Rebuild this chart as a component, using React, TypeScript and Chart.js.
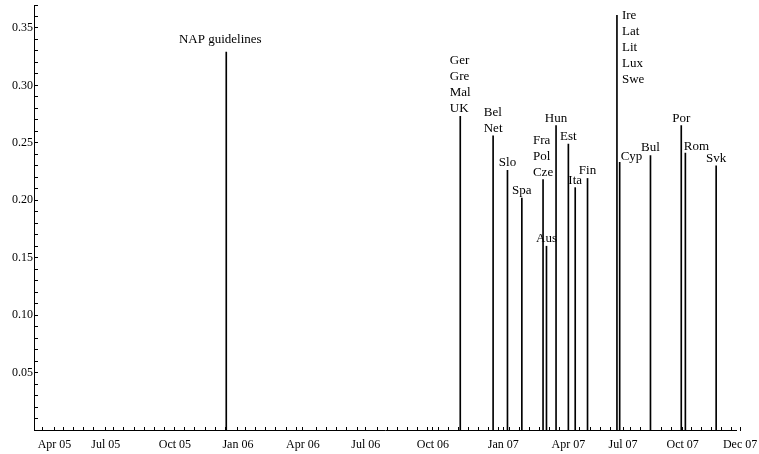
import React, { useEffect, useRef } from 'react';
import { Chart, registerables } from 'chart.js';

Chart.register(...registerables);

// ---- data ----
const EVENT_LABELS: string[][] = [
  ['NAP guidelines'],
  ['Ger', 'Gre', 'Mal', 'UK'],
  ['Bel', 'Net'],
  ['Slo'],
  ['Spa'],
  ['Fra', 'Pol', 'Cze'],
  ['Aus'],
  ['Hun'],
  ['Est'],
  ['Ita'],
  ['Fin'],
  ['Ire', 'Lat', 'Lit', 'Lux', 'Swe'],
  ['Cyp'],
  ['Bul'],
  ['Por'],
  ['Rom'],
  ['Svk'],
];
const EVENT_DATES: string[] = [
  '2005-12-22', '2006-11-29', '2007-01-16', '2007-02-06', '2007-02-27',
  '2007-03-30', '2007-04-04', '2007-04-18', '2007-05-06', '2007-05-16',
  '2007-06-03', '2007-07-16', '2007-07-20', '2007-09-03', '2007-10-18',
  '2007-10-24', '2007-12-08',
];
const EVENT_VALUES: number[] = [
  0.329, 0.273, 0.256, 0.226, 0.202,
  0.218, 0.160, 0.265, 0.249, 0.211,
  0.219, 0.361, 0.233, 0.239, 0.265,
  0.241, 0.230,
];
const X_TICK_LABELS: string[] = [
  'Apr 05', 'Jul 05', 'Oct 05', 'Jan 06', 'Apr 06', 'Jul 06',
  'Oct 06', 'Jan 07', 'Apr 07', 'Jul 07', 'Oct 07', 'Dec 07',
];
const X_TICK_DATES: string[] = [
  '2005-04-15', '2005-06-29', '2005-10-08', '2006-01-08', '2006-04-13', '2006-07-14',
  '2006-10-20', '2007-01-31', '2007-05-06', '2007-07-25', '2007-10-20', '2008-01-12',
];
const X_MIN_DATE = '2005-03-16';
const X_MAX_DATE = '2008-01-06';
const X_MINOR_START_DATE = '2005-03-29';
const X_MINOR_STEP_DAYS = 14.81;
const Y_MIN = 0;
const Y_MAX = 0.37;
const Y_MINOR_STEP = 0.01;
const Y_LABEL_VALUES: number[] = [0.05, 0.1, 0.15, 0.2, 0.25, 0.3, 0.35];

// ---- helpers ----
const EPOCH = Date.parse('2005-01-01T00:00:00Z');
const toDay = (iso: string) => (Date.parse(iso + 'T00:00:00Z') - EPOCH) / 86400000;

const FONT_FAMILY = '"Liberation Serif", "Times New Roman", serif';
const LINE_H = 16;

type Placement = { mode: 'above' | 'aboveRight' | 'besideTop'; dx: number; gap: number };
const DEFAULT_PLACEMENT: Placement = { mode: 'above', dx: 0, gap: 4 };
const PLACEMENT: Record<string, Placement> = {
  'NAP guidelines': { mode: 'above', dx: -6, gap: 9 },
  Ire: { mode: 'besideTop', dx: 5, gap: 4 },
  Cyp: { mode: 'aboveRight', dx: 1, gap: 2 },
  Rom: { mode: 'aboveRight', dx: -1.5, gap: 3 },
};

const labelPlugin = {
  id: 'eventLabels',
  afterDatasetsDraw(chart: any) {
    const meta = chart.getDatasetMeta(0);
    const ctx: CanvasRenderingContext2D = chart.ctx;
    ctx.save();
    ctx.font = `13px ${FONT_FAMILY}`;
    ctx.fillStyle = '#000';
    ctx.textBaseline = 'alphabetic';
    ctx.textAlign = 'left';
    meta.data.forEach((el: any, i: number) => {
      const lines = EVENT_LABELS[i];
      const p = PLACEMENT[lines[0]] ?? DEFAULT_PLACEMENT;
      const w = Math.max(...lines.map((l) => ctx.measureText(l).width));
      const top = el.y;
      if (p.mode === 'above') {
        const left = el.x - w / 2 + p.dx;
        lines.forEach((l, j) => {
          ctx.fillText(l, left, top - p.gap - (lines.length - 1 - j) * LINE_H);
        });
      } else if (p.mode === 'aboveRight') {
        const left = el.x + p.dx;
        lines.forEach((l, j) => {
          ctx.fillText(l, left, top - p.gap - (lines.length - 1 - j) * LINE_H);
        });
      } else {
        const left = el.x + p.dx;
        lines.forEach((l, j) => {
          ctx.fillText(l, left, top + p.gap + j * LINE_H);
        });
      }
    });
    ctx.restore();
  },
};

export default function App() {
  const canvasRef = useRef<HTMLCanvasElement | null>(null);

  useEffect(() => {
    if (!canvasRef.current) return;
    const xMin = toDay(X_MIN_DATE);
    const xMax = toDay(X_MAX_DATE);
    const labelDays = X_TICK_DATES.map(toDay);
    const labelMap = new Map<number, string>();
    labelDays.forEach((d, i) => labelMap.set(Math.round(d * 1000), X_TICK_LABELS[i]));

    const xTicks: number[] = [...labelDays];
    for (let d = toDay(X_MINOR_START_DATE); d <= xMax; d += X_MINOR_STEP_DAYS) {
      if (labelDays.every((ld) => Math.abs(ld - d) > 6)) xTicks.push(d);
    }
    xTicks.sort((a, b) => a - b);

    const yTicks: number[] = [];
    for (let k = 1; k * Y_MINOR_STEP <= Y_MAX + 1e-9; k++) yTicks.push(+(k * Y_MINOR_STEP).toFixed(2));

    const chart = new Chart(canvasRef.current, {
      type: 'bar',
      data: {
        datasets: [
          {
            data: EVENT_DATES.map((d, i) => ({ x: toDay(d), y: EVENT_VALUES[i] })),
            backgroundColor: '#000',
            borderWidth: 0,
            barThickness: 1,
          } as any,
        ],
      },
      options: {
        animation: false,
        responsive: false,
        devicePixelRatio: 1,
        layout: { padding: { top: 5, right: 23, bottom: 0, left: 0 } },
        plugins: { legend: { display: false }, tooltip: { enabled: false } },
        scales: {
          x: {
            type: 'linear',
            min: xMin,
            max: xMax,
            offset: false,
            border: { display: true, color: '#000', width: 1 },
            grid: {
              display: true,
              drawOnChartArea: false,
              drawTicks: true,
              tickLength: -3,
              color: '#000',
              offset: false,
            },
            ticks: {
              autoSkip: false,
              maxRotation: 0,
              minRotation: 0,
              padding: 11,
              color: '#000',
              font: { family: FONT_FAMILY, size: 12 },
              callback: (v: any) => labelMap.get(Math.round(Number(v) * 1000)) ?? '',
            },
            afterBuildTicks: (scale: any) => {
              scale.ticks = xTicks.map((v) => ({ value: v }));
            },
            afterFit: (scale: any) => {
              scale.height = 24;
              scale.paddingLeft = 0;
              scale.paddingRight = 0;
            },
          },
          y: {
            type: 'linear',
            min: Y_MIN,
            max: Y_MAX,
            border: { display: true, color: '#000', width: 1 },
            grid: {
              display: true,
              drawOnChartArea: false,
              drawTicks: true,
              tickLength: -4,
              color: '#000',
            },
            ticks: {
              autoSkip: false,
              padding: 5,
              color: '#000',
              font: { family: FONT_FAMILY, size: 12 },
              callback: (v: any) => {
                const n = Number(v);
                return Y_LABEL_VALUES.some((y) => Math.abs(y - n) < 1e-6) ? n.toFixed(2) : '';
              },
            },
            afterBuildTicks: (scale: any) => {
              scale.ticks = yTicks.map((v) => ({ value: v }));
            },
            afterFit: (scale: any) => {
              scale.width = 34;
              scale.paddingTop = 0;
              scale.paddingBottom = 0;
            },
          },
        },
      } as any,
      plugins: [labelPlugin],
    });
    return () => chart.destroy();
  }, []);

  return (
    <div style={{ position: 'fixed', left: 0, top: 0, width: 759, height: 454, background: '#fff', overflow: 'hidden' }}>
      <canvas ref={canvasRef} width={759} height={454} style={{ display: 'block' }} />
    </div>
  );
}
